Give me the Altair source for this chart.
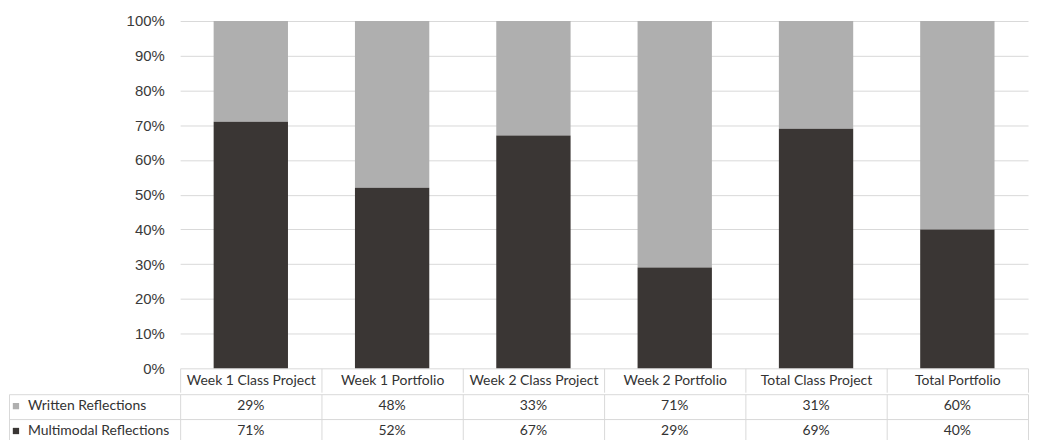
import altair as alt
import pandas as pd

categories = ["Week 1 Class Project", "Week 1 Portfolio", "Week 2 Class Project",
              "Week 2 Portfolio", "Total Class Project", "Total Portfolio"]
series = ["Written Reflections", "Multimodal Reflections"]
written = [29, 48, 33, 71, 31, 60]
multimodal = [71, 52, 67, 29, 69, 40]
colors = ["#afafaf", "#3a3634"]

rows = []
for i, c in enumerate(categories):
    rows.append({"category": c, "series": series[0], "value": written[i], "stack": 1})
    rows.append({"category": c, "series": series[1], "value": multimodal[i], "stack": 0})
df = pd.DataFrame(rows)
df["label"] = df["value"].astype(str) + "%"

grid = "#d9d9d9"
txt = "#333333"
W = 852

color_scale = alt.Scale(domain=series, range=colors)

bars = alt.Chart(df).mark_bar(width=alt.RelativeBandSize(0.526)).encode(
    x=alt.X("category:N", sort=categories, title=None,
            scale=alt.Scale(paddingInner=0, paddingOuter=0),
            axis=alt.Axis(labelAngle=0, tickBand="extent", tickSize=24, tickColor=grid,
                          domain=False, labelPadding=-12, labelBaseline="middle",
                          labelFont="Lato", labelFontSize=14, labelColor=txt, grid=False)),
    y=alt.Y("value:Q", stack="normalize", title=None,
            scale=alt.Scale(domain=[0, 1], nice=False),
            axis=alt.Axis(format=".0%", values=[i / 10 for i in range(11)], grid=True,
                          gridColor=grid, domain=False, ticks=False, labelPadding=16,
                          labelFont="Liberation Sans", labelFontSize=15, labelColor="#3a3a3a")),
    color=alt.Color("series:N", scale=color_scale, legend=None),
    order=alt.Order("stack:Q"),
).properties(width=W, height=349)

x_enc = alt.X("category:N", sort=categories, title=None,
              scale=alt.Scale(paddingInner=0, paddingOuter=0),
              axis=alt.Axis(labels=False, ticks=False, domain=False, grid=True,
                            tickBand="extent", gridColor=grid))
y_enc = alt.Y("series:N", sort=series, title=None,
              scale=alt.Scale(paddingInner=0, paddingOuter=0),
              axis=alt.Axis(labels=False, tickBand="extent", tickSize=172, tickColor=grid,
                            domain=False, grid=True, gridColor=grid))
y_enc2 = alt.Y("series:N", sort=series, title=None,
               scale=alt.Scale(paddingInner=0, paddingOuter=0),
               axis=alt.Axis(orient="left", labels=False, ticks=False, grid=False,
                             domain=True, domainColor=grid, offset=172))

base = alt.Chart(df)
text = base.mark_text(font="Lato", fontSize=14, color=txt).encode(
    x=x_enc, y=y_enc, text="label:N")
keys = base.mark_square(opacity=0).encode(
    x=x_enc, y=y_enc2,
    color=alt.Color("series:N", scale=color_scale,
                    legend=alt.Legend(title=None, orient="none", legendX=-172, legendY=5,
                                      symbolType="square", symbolSize=40, symbolOpacity=1,
                                      symbolStrokeWidth=0,
                                      labelFont="Lato", labelFontSize=14, labelColor=txt,
                                      rowPadding=11, padding=0, labelOffset=5)))
table = alt.layer(text, keys).resolve_axis(y="independent").properties(width=W, height=49)

chart = alt.vconcat(bars, table, spacing=0).resolve_scale(color="independent").properties(
    padding={"left": 0, "top": 5, "right": 0, "bottom": 0}
).configure_view(stroke=None)

chart.save("out.html", embed_options={"renderer": "svg", "actions": False})
